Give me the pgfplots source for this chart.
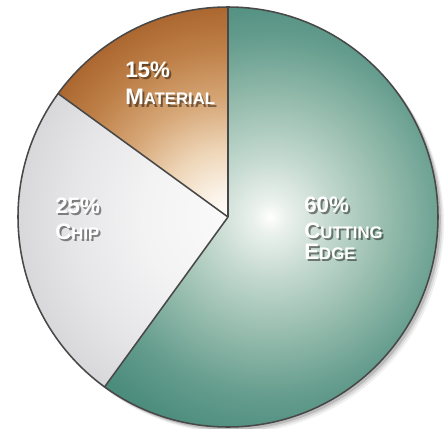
\documentclass[border=0pt]{standalone}
\usepackage{pgfplots}
\usepackage{pgfplotstable}
\pgfplotsset{compat=1.18}
\usepackage{fontspec}
\setmainfont{Liberation Sans}

\definecolor{edgeline}{RGB}{72,72,72}
\definecolor{tealout}{RGB}{75,140,125}
\definecolor{tealA}{RGB}{236,242,238}
\definecolor{tealB}{RGB}{196,217,207}
\definecolor{tealC}{RGB}{148,187,172}
\definecolor{tealD}{RGB}{100,156,141}
\definecolor{matA}{RGB}{251,243,232}
\definecolor{matB}{RGB}{238,214,184}
\definecolor{matC}{RGB}{214,166,118}
\definecolor{matD}{RGB}{190,128,72}
\definecolor{matout}{RGB}{172,103,48}
\definecolor{chipA}{RGB}{250,250,250}
\definecolor{chipB}{RGB}{243,243,244}
\definecolor{chipC}{RGB}{230,230,232}
\definecolor{chipout}{RGB}{216,216,219}

% 25bp = radius of the shaded circle
\pgfdeclareradialshading{tealshade}{\pgfpoint{0bp}{0bp}}{color(0bp)=(white); color(1.5bp)=(tealA); color(6bp)=(tealB); color(12bp)=(tealC); color(18bp)=(tealD); color(23bp)=(tealout); color(50bp)=(tealout)}
\pgfdeclareradialshading{matshade}{\pgfpoint{0bp}{0bp}}{color(0bp)=(white); color(3bp)=(matA); color(8bp)=(matB); color(14bp)=(matC); color(20bp)=(matD); color(25bp)=(matout); color(50bp)=(matout)}
\pgfdeclareradialshading{chipshade}{\pgfpoint{0bp}{0bp}}{color(0bp)=(chipA); color(10bp)=(chipB); color(18.5bp)=(chipC); color(25bp)=(chipout); color(50bp)=(chipout)}

% shares in percent, clockwise from 12 o'clock
\pgfplotstableread{
label value
Cutting 60
Chip 25
Material 15
}\piedata

\newcommand\capbig[1]{{\fontsize{15.9}{18}\selectfont #1}}
\newcommand\capsmall[1]{{\fontsize{11.9}{14}\selectfont #1}}
\newcommand\lbl[3]{%
  \node[anchor=base west, inner sep=0, text=black, opacity=0.45] at ([shift={(0.05cm,-0.06cm)}]axis cs:#1,#2) {#3};
  \node[anchor=base west, inner sep=0, text=white] at (axis cs:#1,#2) {#3};}

\begin{document}
\begin{tikzpicture}
\pgfplotstablegetelem{0}{value}\of\piedata \edef\vA{\pgfplotsretval}
\pgfplotstablegetelem{1}{value}\of\piedata \edef\vB{\pgfplotsretval}
\pgfplotstablegetelem{2}{value}\of\piedata \edef\vC{\pgfplotsretval}
\pgfmathsetmacro\aA{90}
\pgfmathsetmacro\aB{\aA-3.6*\vA}
\pgfmathsetmacro\aC{\aB-3.6*\vB}
\pgfmathsetmacro\aD{\aC-3.6*\vC}
\def\R{5.25cm}
\begin{axis}[
  width=11.175cm, height=10.7cm, scale only axis,
  xmin=0, xmax=447, ymin=0, ymax=428,
  hide axis, clip=false,
  font=\bfseries,
]
  \coordinate (sw) at (rel axis cs:0,0);
  \coordinate (ne) at (rel axis cs:1,1);
  \coordinate (c) at (axis cs:228,211);
  % drop shadow
  \fill[black, opacity=0.06] ([shift={(0.15cm,-0.15cm)}]c) circle[radius=\R];
  \fill[black, opacity=0.09] ([shift={(0.11cm,-0.11cm)}]c) circle[radius=\R];
  \fill[black, opacity=0.14] ([shift={(0.07cm,-0.07cm)}]c) circle[radius=\R];
  % slices
  \begin{scope}
    \clip (c) -- ++(\aA:\R) arc[start angle=\aA, end angle=\aB, radius=\R] -- cycle;
    \shade[shading=tealshade] (axis cs:270,211) circle[radius=6.25cm];
  \end{scope}
  \begin{scope}
    \clip (c) -- ++(\aB:\R) arc[start angle=\aB, end angle=\aC, radius=\R] -- cycle;
    \shade[shading=chipshade] (c) circle[radius=\R];
  \end{scope}
  \begin{scope}
    \clip (c) -- ++(\aC:\R) arc[start angle=\aC, end angle=\aD, radius=\R] -- cycle;
    \shade[shading=matshade] (c) circle[radius=\R];
  \end{scope}
  \draw[edgeline, line width=1.1pt] (c) circle[radius=\R];
  \draw[edgeline, line width=1.1pt] (c) -- ++(\aA:\R);
  \draw[edgeline, line width=1.1pt] (c) -- ++(\aB:\R);
  \draw[edgeline, line width=1.1pt] (c) -- ++(\aC:\R);
  % labels
  \lbl{125}{351}{\capbig{15\%}}
  \lbl{125}{323}{\capbig{M}\capsmall{ATERIAL}}
  \lbl{55}{215}{\capbig{25\%}}
  \lbl{55}{189}{\capbig{C}\capsmall{HIP}}
  \lbl{304}{216}{\capbig{60\%}}
  \lbl{304}{190}{\capbig{C}\capsmall{UTTING}}
  \lbl{304}{169}{\capbig{E}\capsmall{DGE}}
\end{axis}
\pgfresetboundingbox
\path (sw) rectangle (ne);
\end{tikzpicture}
\end{document}
